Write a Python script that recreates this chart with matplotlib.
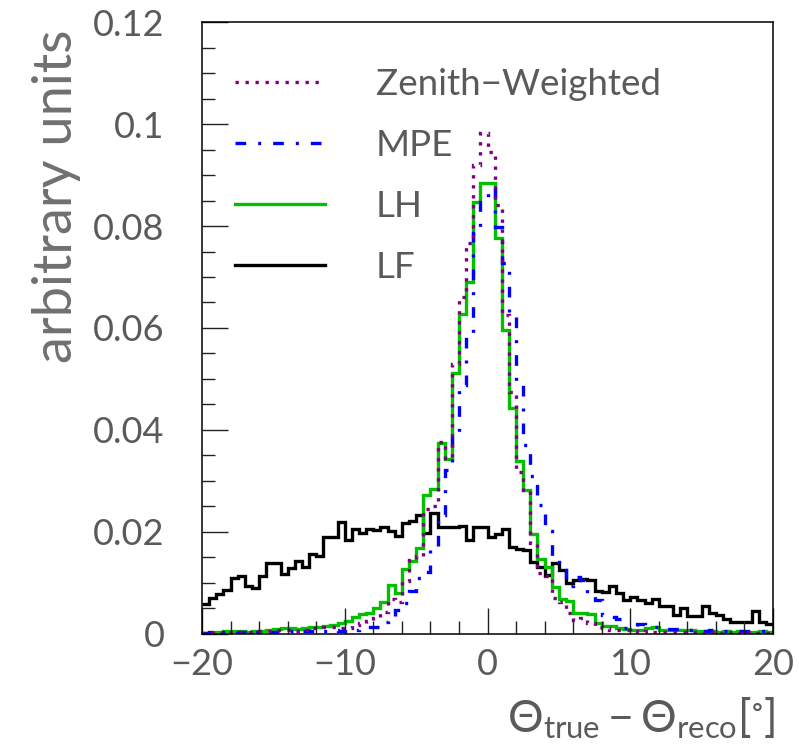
import numpy as np
import matplotlib
matplotlib.use("Agg")
import matplotlib.pyplot as plt
from matplotlib.ticker import MultipleLocator, FixedLocator
from matplotlib.lines import Line2D

# ---------------- data ----------------
x_min, x_max, n_bins = -20.0, 20.0, 80

zenith_weighted = [0.0002,0.0003,0.0002,0.0004,0.0003,0.0003,0.0004,0.0003,0.0005,0.0006,
                   0.0008,0.0007,0.0008,0.0006,0.0007,0.0011,0.0012,0.0014,0.0013,0.0012,
                   0.0011,0.0018,0.0022,0.0026,0.0032,
                   0.0043,0.0069,0.0063,0.0103,0.0146,0.0152,0.0246,0.0250,0.0377,0.0345,
                   0.0529,0.0660,0.0766,0.0920,0.0982,0.0945,0.0842,0.0625,0.0475,0.0318,
                   0.0282,0.0178,0.0120,0.0114,0.0070,0.0062,0.0042,0.0027,0.0031,
                   0.0022,0.0014,0.0012,0.0008,0.0008,0.0007,0.0005,0.0004,0.0005,0.0004,
                   0.0003,0.0004,0.0003,0.0003,0.0004,0.0003,0.0002,0.0003,0.0002,0.0003,
                   0.0002,0.0002,0.0003,0.0002,0.0002,0.0002]

mpe = [0.0002,0.0003,0.0002,0.0003,0.0002,0.0003,0.0002,0.0003,0.0003,0.0002,
       0.0004,0.0003,0.0005,0.0004,0.0006,0.0005,0.0004,0.0006,0.0007,0.0006,
       0.0009,0.0008,0.0011,0.0013,0.0014,
       0.0024,0.0036,0.0048,0.0060,0.0084,0.0110,0.0122,0.0168,0.0233,0.0322,
       0.0393,0.0488,0.0590,0.0786,0.0848,0.0874,0.0799,0.0727,0.0629,0.0496,
       0.0371,0.0310,0.0253,0.0201,0.0145,0.0132,0.0095,0.0112,0.0106,
       0.0080,0.0067,0.0037,0.0034,0.0030,0.0012,0.0015,0.0020,0.0014,0.0013,
       0.0011,0.0010,0.0010,0.0008,0.0007,0.0007,0.0006,0.0007,0.0006,0.0006,
       0.0005,0.0006,0.0005,0.0005,0.0006,0.0005]

lh = [0.0002,0.0002,0.0003,0.0005,0.0005,0.0005,0.0004,0.0005,0.0005,0.0008,
      0.0010,0.0012,0.0011,0.0009,0.0011,0.0013,0.0014,0.0016,
      0.0018,0.0022,0.0026,0.0033,0.0040,0.0042,0.0051,0.0062,0.0097,0.0080,
      0.0127,0.0143,0.0168,0.0273,0.0285,0.0375,0.0344,
      0.0511,0.0628,0.0691,0.0848,0.0885,0.0885,0.0776,0.0596,0.0443,0.0339,
      0.0282,0.0197,0.0148,0.0132,0.0093,0.0068,0.0065,0.0041,0.0041,
      0.0040,0.0021,0.0016,0.0016,0.0011,0.0010,0.0008,0.0008,0.0012,0.0013,
      0.0007,0.0007,0.0007,0.0007,0.0007,0.0005,0.0005,0.0005,0.0004,0.0005,
      0.0004,0.0005,0.0004,0.0004,0.0005,0.0004]

lf = [0.0058,0.0070,0.0079,0.0086,0.0110,0.0114,0.0095,0.0091,0.0113,0.0139,
      0.0139,0.0117,0.0129,0.0144,0.0132,0.0157,0.0152,0.0190,0.0190,0.0220,
      0.0184,0.0206,0.0198,0.0205,0.0204,0.0209,0.0201,0.0192,0.0217,0.0222,
      0.0233,0.0198,0.0238,0.0210,0.0209,0.0210,0.0211,0.0184,0.0210,0.0209,
      0.0191,0.0196,0.0205,0.0171,0.0166,0.0165,0.0142,0.0132,0.0116,0.0139,
      0.0125,0.0100,0.0105,0.0107,0.0106,0.0085,0.0083,0.0094,0.0081,0.0067,
      0.0073,0.0067,0.0060,0.0068,0.0054,0.0055,0.0037,0.0050,0.0035,0.0036,
      0.0054,0.0042,0.0037,0.0029,0.0024,0.0024,0.0024,0.0046,0.0024,0.0020]

labels = ["Zenith\u2212Weighted", "MPE", "LH", "LF"]
y_tick_values = [0, 0.02, 0.04, 0.06, 0.08, 0.1, 0.12]
y_tick_labels = ["0", "0.02", "0.04", "0.06", "0.08", "0.1", "0.12"]
x_tick_values = [-20, -10, 0, 10, 20]

# ---------------- style ----------------
plt.rcParams['font.family'] = ['Lato', 'DejaVu Sans']
plt.rcParams['font.weight'] = 'normal'
plt.rcParams['mathtext.fontset'] = 'custom'
plt.rcParams['mathtext.rm'] = 'Lato'
plt.rcParams['mathtext.it'] = 'Lato:italic'
plt.rcParams['mathtext.fallback'] = 'stixsans'

PURPLE = '#7f007f'
BLUE = '#0000ff'
GREEN = '#00c000'
BLACK = '#000000'
TEXT = '#5a5a5a'

edges = np.linspace(x_min, x_max, n_bins + 1)

fig = plt.figure(figsize=(7.99, 7.51), dpi=100)
ax = fig.add_axes([0.2528, 0.1558, 0.7147, 0.8149])

lw = 2.4
dashdot = (0, (3.2, 3.6, 0.9, 3.6))
dotted = (0, (1.0, 2.0))
ax.stairs(lf, edges, color=BLACK, lw=lw, baseline=None)
ax.stairs(lh, edges, color=GREEN, lw=lw, baseline=None)
ax.stairs(mpe, edges, color=BLUE, lw=lw, baseline=None, linestyle=dashdot)
ax.stairs(zenith_weighted, edges, color=PURPLE, lw=lw, baseline=None, linestyle=dotted)

ax.set_xlim(x_min, x_max)
ax.set_ylim(0, 0.12)

ax.xaxis.set_major_locator(FixedLocator(x_tick_values))
ax.xaxis.set_minor_locator(MultipleLocator(2))
ax.yaxis.set_major_locator(FixedLocator(y_tick_values))
ax.set_yticklabels(y_tick_labels)
ax.yaxis.set_minor_locator(MultipleLocator(0.005))

ax.tick_params(which='both', direction='in', top=False, right=False, width=1.0,
               color='#222222', labelcolor=TEXT)
ax.tick_params(which='major', length=18.5)
ax.tick_params(which='minor', length=9.5)
ax.tick_params(axis='y', which='major', labelsize=26, pad=27)
ax.tick_params(axis='x', which='major', labelsize=26, pad=10)

for s in ax.spines.values():
    s.set_linewidth(1.1)

ax.set_xlabel(r'$\Theta_{\mathrm{true}}-\Theta_{\mathrm{reco}}[^{\circ}]$', fontsize=32, color=TEXT)
ax.xaxis.set_label_coords(1.005, -0.10)
ax.xaxis.label.set_horizontalalignment('right')
ax.xaxis.label.set_verticalalignment('top')

ax.set_ylabel('arbitrary units', fontsize=39, color='#707070', fontweight='normal')
ax.yaxis.set_label_coords(-0.212, 0.987)
ax.yaxis.label.set_horizontalalignment('right')

handles = [Line2D([], [], color=PURPLE, lw=lw, linestyle=dotted),
           Line2D([], [], color=BLUE, lw=lw, linestyle=dashdot),
           Line2D([], [], color=GREEN, lw=lw),
           Line2D([], [], color=BLACK, lw=lw)]
leg = ax.legend(handles, labels, loc='upper left', bbox_to_anchor=(0.058, 0.925),
                frameon=False, fontsize=26.5, handlelength=2.45, handletextpad=1.38,
                labelspacing=0.76, borderpad=0, borderaxespad=0)
for t in leg.get_texts():
    t.set_color(TEXT)

fig.savefig('out.png', dpi=100)
